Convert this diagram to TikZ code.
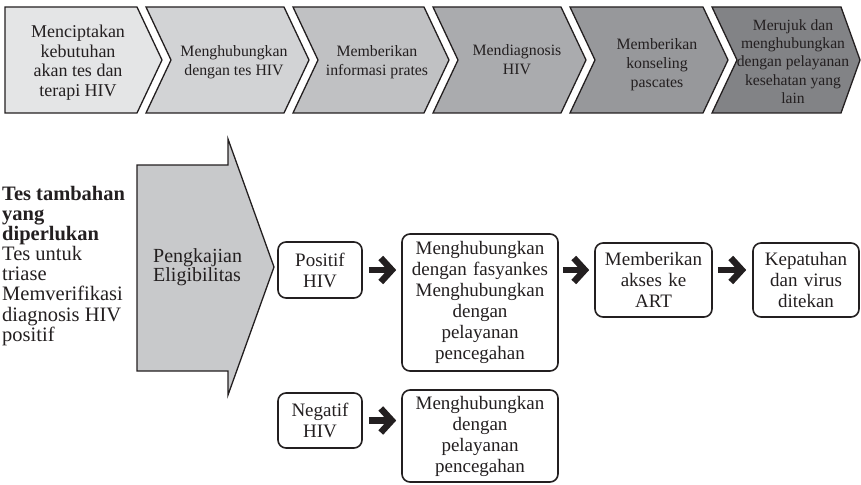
\documentclass[tikz,border=0pt]{standalone}
\usepackage{fontspec}
\setmainfont{Liberation Serif}
\usetikzlibrary{arrows.meta}
\definecolor{ink}{HTML}{231F20}
\definecolor{stepA}{HTML}{E4E5E6}
\definecolor{stepB}{HTML}{D2D3D5}
\definecolor{stepC}{HTML}{C0C1C3}
\definecolor{stepD}{HTML}{AAABAE}
\definecolor{stepE}{HTML}{97989B}
\definecolor{stepF}{HTML}{828386}
\definecolor{assess}{HTML}{C8C9CB}
\lineskiplimit=-50pt
\begin{document}
\begin{tikzpicture}[x=1pt,y=-1pt,
  stage/.style={draw=ink, line width=1.3pt, line join=miter},
  stagetext/.style={text=ink, align=center, inner sep=0pt,
    font=\fontsize{15.8}{19}\selectfont},
  outcome/.style={draw=ink, fill=white, line width=1.6pt, rounded corners=8pt,
    text=ink, align=center, inner sep=0pt, font=\fontsize{19}{21}\selectfont},
  fatarrow/.style={draw=ink, line width=6.5pt,
    -{Straight Barb[length=11pt,width=24pt,sharp]}},
]
\useasboundingbox (0,0) rectangle (861,484);

% cascade of service steps along the top
\filldraw[stage, fill=stepA] (5,7) -- (137,7) -- (162,60) -- (137,113) -- (5,113) -- cycle;
\filldraw[stage, fill=stepB] (146,7) -- (284,7) -- (309,60) -- (284,113) -- (146,113) -- (171,60) -- cycle;
\filldraw[stage, fill=stepC] (293,7) -- (424,7) -- (449,60) -- (424,113) -- (293,113) -- (318,60) -- cycle;
\filldraw[stage, fill=stepD] (433,7) -- (561,7) -- (586,60) -- (561,113) -- (433,113) -- (458,60) -- cycle;
\filldraw[stage, fill=stepE] (570,7) -- (703,7) -- (728,60) -- (703,113) -- (570,113) -- (595,60) -- cycle;
\filldraw[stage, fill=stepF] (712,7) -- (841,7) -- (860,60) -- (841,113) -- (712,113) -- (737,60) -- cycle;

\node[stagetext, font=\fontsize{18}{19.5}\selectfont] (s1) at (78,62.5)
  {Menciptakan\\kebutuhan\\akan tes dan\\terapi HIV};
\node[stagetext] (s2) at (234,62.5) {Menghubungkan\\dengan tes HIV};
\node[stagetext] (s3) at (377,62.5) {Memberikan\\informasi prates};
\node[stagetext] (s4) at (517,59.5) {Mendiagnosis\\HIV};
\node[stagetext] (s5) at (657,65) {Memberikan\\konseling\\pascates};
\node[stagetext, font=\fontsize{15.6}{18.3}\selectfont] (s6) at (793,61.5)
  {Merujuk dan\\menghubungkan\\dengan pelayanan\\kesehatan yang\\lain};

% additional testing notes
\node[anchor=north west, align=left, inner sep=0pt, text=ink,
  font=\fontsize{20.5}{20.1}\selectfont] (notes) at (2,186)
  {\textbf{Tes tambahan}\\\textbf{yang}\\\textbf{diperlukan}\\Tes untuk\\triase\\Memverifikasi\\diagnosis HIV\\positif};

% eligibility assessment block arrow
\filldraw[draw=ink, fill=assess, line width=1.3pt, line join=miter]
  (137,165) -- (228,165) -- (228,139) -- (274,267) -- (228,395) -- (228,371) -- (137,371) -- cycle;
\node[anchor=west, align=left, inner sep=0pt, text=ink,
  font=\fontsize{20}{19}\selectfont] (assessment) at (153,267.5)
  {Pengkajian\\Eligibilitas};

% outcome boxes
\node[outcome, text width=84pt, minimum height=56pt] (pos) at (320,270) {Positif\\HIV};
\node[outcome, text width=156pt, minimum height=137pt] (link) at (480,302.5)
  {Menghubungkan\\dengan fasyankes\\Menghubungkan\\dengan\\pelayanan\\pencegahan};
\node[outcome, text width=117pt, minimum height=74pt] (art) at (653.5,280) {Memberikan\\akses ke\\ART};
\node[outcome, text width=106pt, minimum height=74pt] (supp) at (806,280) {Kepatuhan\\dan virus\\ditekan};
\node[outcome, text width=84pt, minimum height=55pt] (neg) at (320,420.5) {Negatif\\HIV};
\node[outcome, text width=156pt, minimum height=92pt] (prev) at (480,436)
  {Menghubungkan\\dengan\\pelayanan\\pencegahan};

% connectors
\draw[fatarrow, shorten <=6pt, shorten >=5pt] (pos.east) -- (pos.east -| link.west);
\draw[fatarrow, shorten <=4pt, shorten >=5pt] (link.east |- pos.east) -- (art.west |- pos.east);
\draw[fatarrow, shorten <=5pt, shorten >=6pt] (art.east |- pos.east) -- (supp.west |- pos.east);
\draw[fatarrow, shorten <=6pt, shorten >=5pt] (neg.east) -- (neg.east -| prev.west);
\end{tikzpicture}
\end{document}
